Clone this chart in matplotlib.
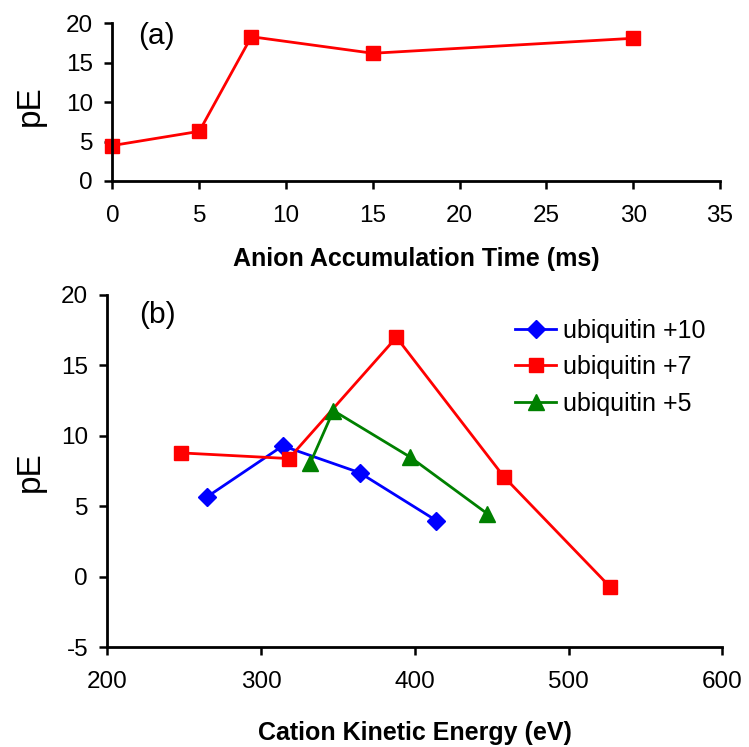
import matplotlib
matplotlib.use("Agg")
import matplotlib.pyplot as plt

plt.rcParams['font.family'] = ['Liberation Sans', 'DejaVu Sans']
plt.rcParams['axes.unicode_minus'] = False

# (a) pE vs anion accumulation time
accum_time = [0, 5, 8, 15, 30]
pe_accum = [4.5, 6.3, 18.3, 16.2, 18.1]

# (b) pE vs cation kinetic energy, per charge state
ke_10 = [265, 314, 364, 414]
pe_10 = [5.7, 9.3, 7.4, 4.0]
ke_7 = [248, 318, 388, 458, 527]
pe_7 = [8.8, 8.4, 17.0, 7.1, -0.7]
ke_5 = [332, 347, 397, 447]
pe_5 = [8.1, 11.8, 8.5, 4.5]

fig = plt.figure(figsize=(7.49, 7.47), dpi=100)
ax1 = fig.add_axes([0.1502, 0.7577, 0.8111, 0.2111])
ax2 = fig.add_axes([0.1435, 0.1332, 0.8208, 0.4719])


def style_axes(ax):
    for s in ['top', 'right']:
        ax.spines[s].set_visible(False)
    for s in ['left', 'bottom']:
        ax.spines[s].set_linewidth(2)
    ax.tick_params(axis='both', direction='out', length=6, width=1.8, labelsize=17.5)
    ax.tick_params(axis='x', pad=11)
    ax.tick_params(axis='y', pad=8)
    ax.margins(0)


ax1.plot(accum_time, pe_accum, color='red', lw=2, marker='s', ms=10, clip_on=False)
ax1.set_xlim(0, 35)
ax1.set_ylim(0, 20)
ax1.set_xticks(range(0, 36, 5))
ax1.set_yticks(range(0, 21, 5))
style_axes(ax1)
ax1.set_xlabel('Anion Accumulation Time (ms)', fontsize=18, fontweight='bold')
ax1.xaxis.set_label_coords(0.5, -0.42)
ax1.set_ylabel('pE', fontsize=24)
ax1.yaxis.set_label_coords(-0.109, 0.476)
ax1.text(0.073, 0.92, '(a)', transform=ax1.transAxes, fontsize=21.5, ha='center', va='center')

ax2.plot(ke_10, pe_10, color='blue', lw=2, marker='D', ms=9, label='ubiquitin +10')
ax2.plot(ke_7, pe_7, color='red', lw=2, marker='s', ms=10, label='ubiquitin +7')
ax2.plot(ke_5, pe_5, color='green', lw=2, marker='^', ms=11.5, label='ubiquitin +5')
ax2.set_xlim(200, 600)
ax2.set_ylim(-5, 20)
ax2.set_xticks(range(200, 601, 100))
ax2.set_yticks(range(-5, 21, 5))
style_axes(ax2)
ax2.set_xlabel('Cation Kinetic Energy (eV)', fontsize=18, fontweight='bold')
ax2.xaxis.set_label_coords(0.5, -0.2085)
ax2.set_ylabel('pE', fontsize=24)
ax2.yaxis.set_label_coords(-0.100, 0.5)
ax2.text(0.082, 0.943, '(b)', transform=ax2.transAxes, fontsize=21.5, ha='center', va='center')
ax2.legend(loc='upper left', bbox_to_anchor=(0.663, 0.933), frameon=False, fontsize=18,
           borderpad=0, borderaxespad=0, handlelength=1.65, handletextpad=0.25,
           labelspacing=0.5)

fig.savefig('out.png', dpi=100)
